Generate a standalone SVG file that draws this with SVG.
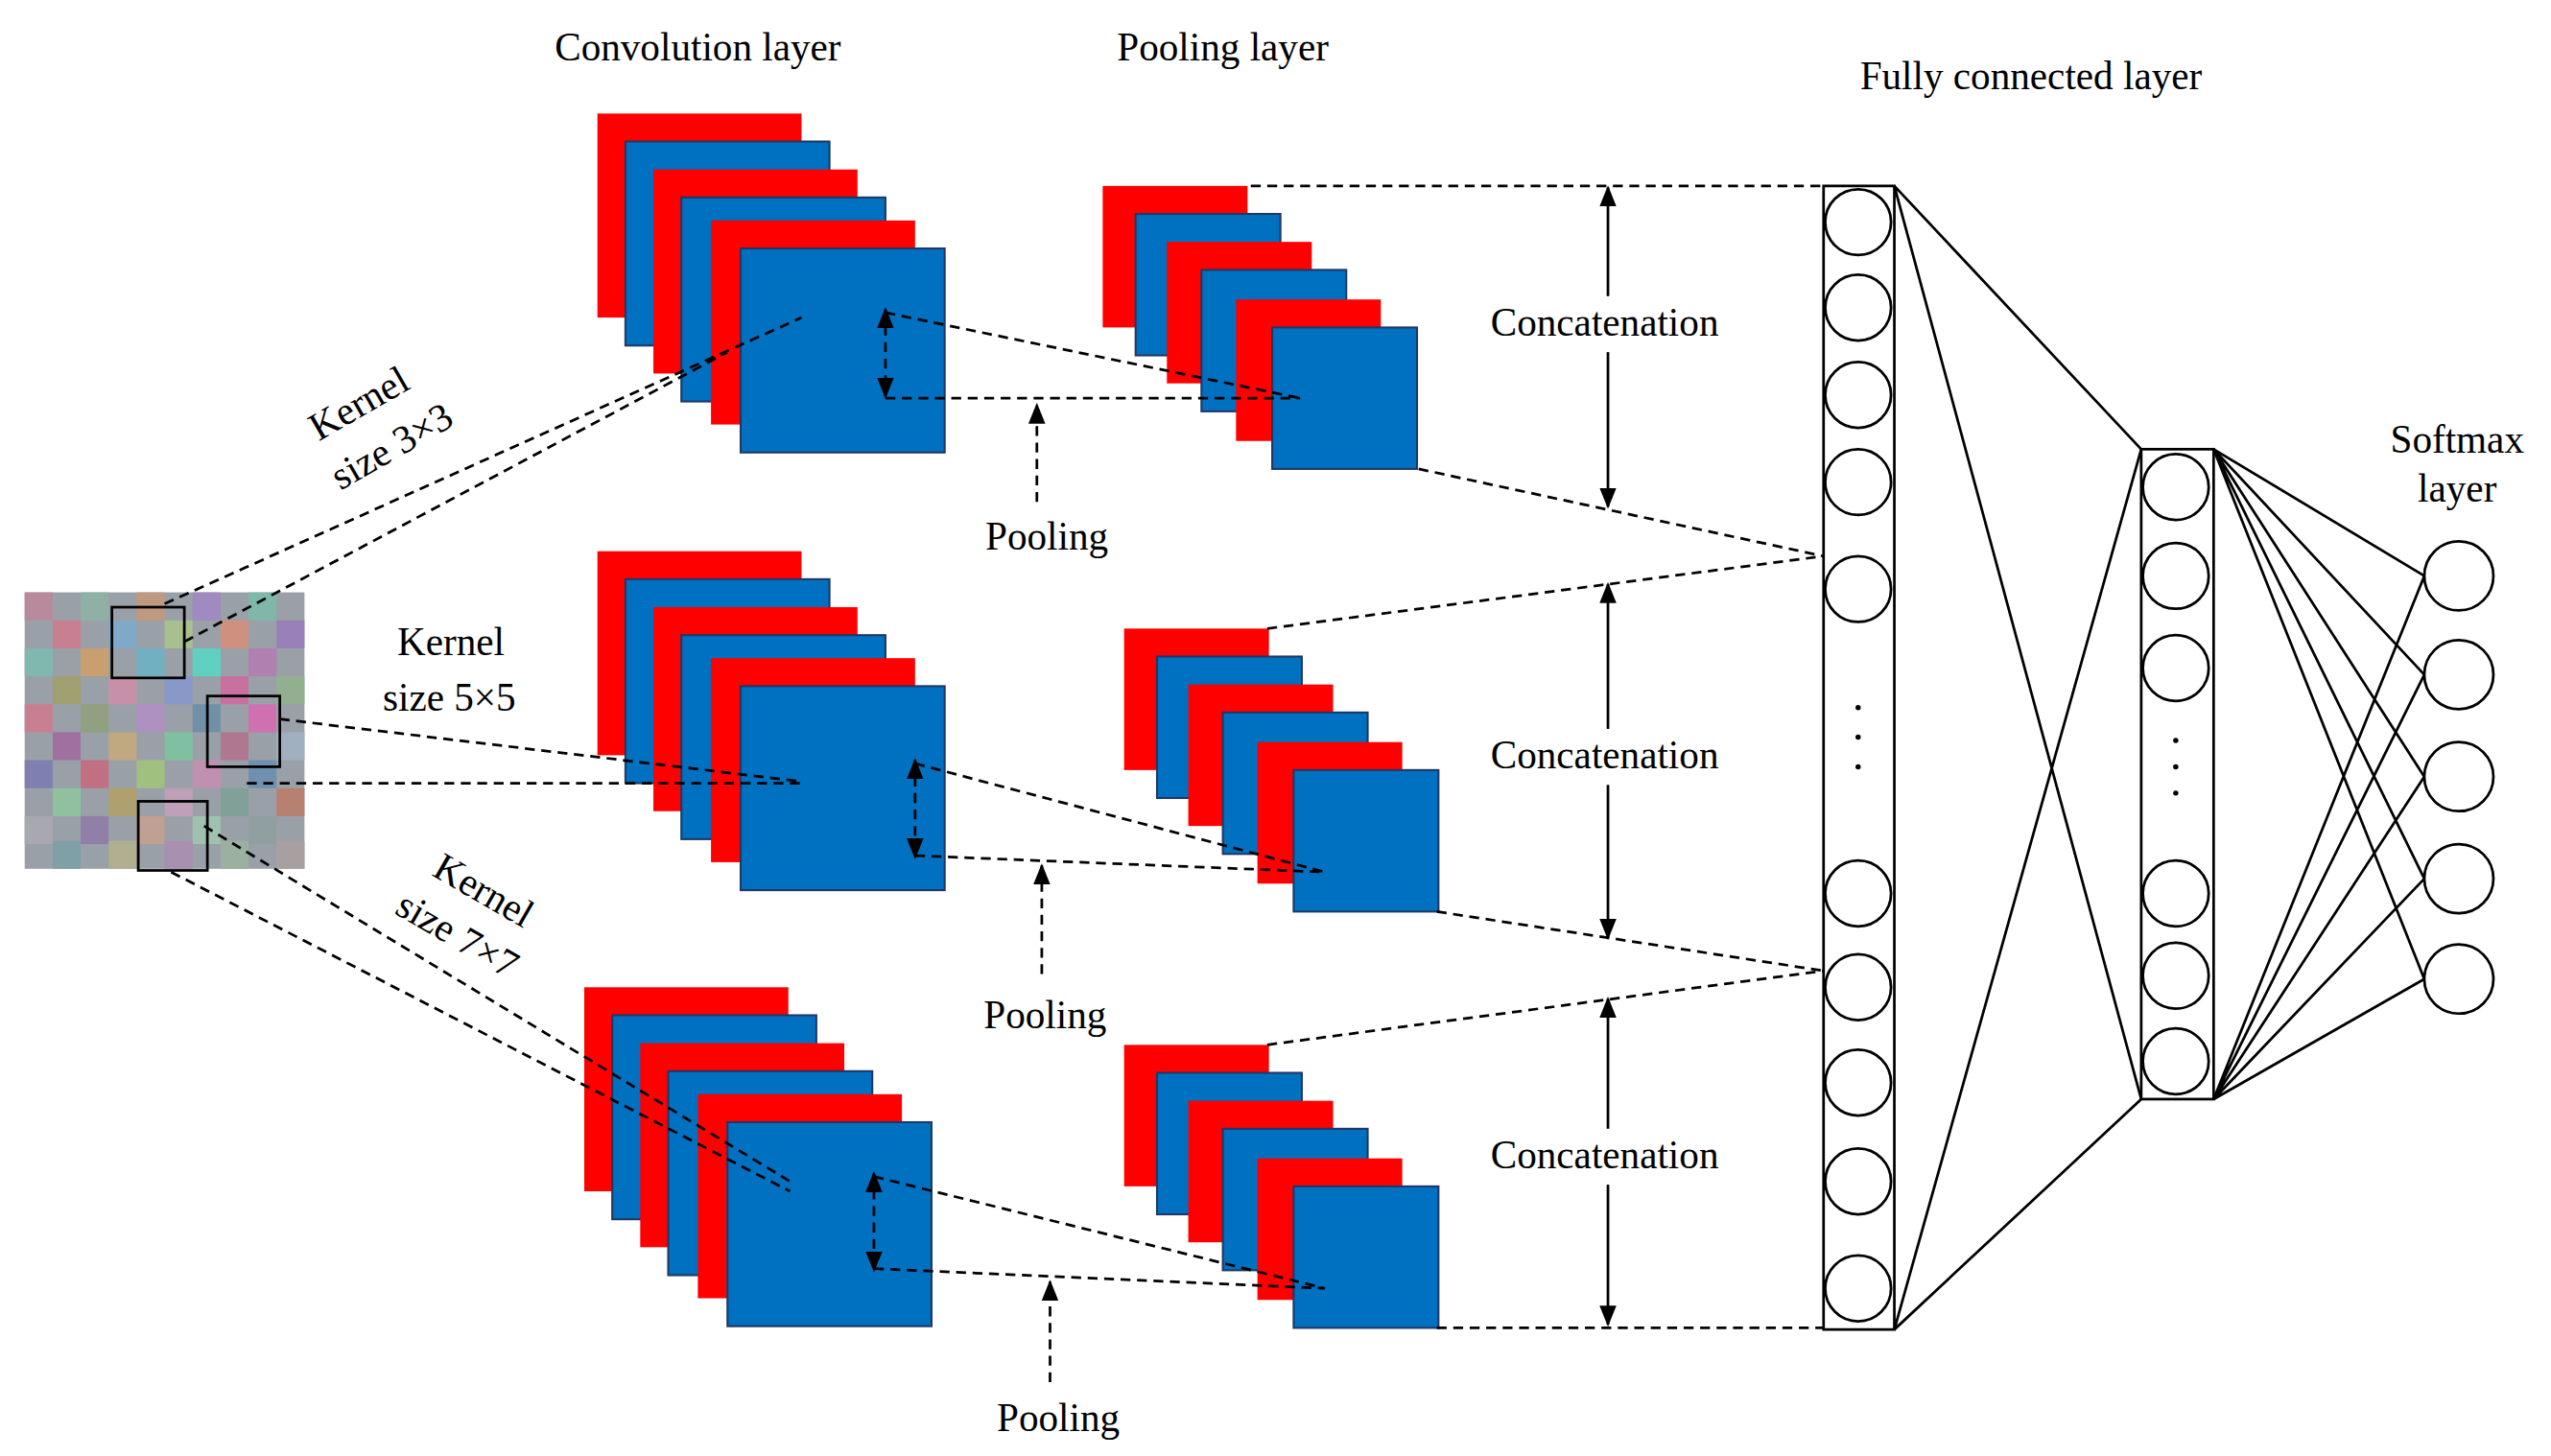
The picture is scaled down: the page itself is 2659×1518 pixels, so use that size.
<svg xmlns="http://www.w3.org/2000/svg" width="2659" height="1518" viewBox="0 0 2659 1518">
<style>
.r{fill:#FF0000}
.b{fill:#0070C0;stroke:#1F3864;stroke-width:1.2}
.d{fill:none;stroke:#000;stroke-width:1.6;stroke-dasharray:6 4}
.s{fill:none;stroke:#000;stroke-width:1.6}
.c{fill:#fff;stroke:#000;stroke-width:1.6}
text{font-family:"Liberation Serif",serif;font-size:24px;fill:#000}
.m{text-anchor:middle}
</style>
<defs>
<marker id="a" viewBox="0 0 10 10" refX="9" refY="5" markerWidth="8" markerHeight="8" orient="auto-start-reverse"><path d="M0,1 L10,5 L0,9 z" fill="#000"/></marker>
<g id="conv"><rect class="r" x="0" y="0" width="124" height="124"/><rect class="b" x="17" y="17" width="124" height="124"/><rect class="r" x="34" y="34" width="124" height="124"/><rect class="b" x="51" y="51" width="124" height="124"/><rect class="r" x="69" y="65" width="124" height="124"/><rect class="b" x="87" y="82" width="124" height="124"/></g>
<g id="pool"><rect class="r" x="0" y="0" width="88" height="86"/><rect class="b" x="20" y="17" width="88" height="86"/><rect class="r" x="39" y="34" width="88" height="86"/><rect class="b" x="60" y="51" width="88" height="86"/><rect class="r" x="81" y="69" width="88" height="86"/><rect class="b" x="103" y="86" width="88" height="86"/></g>
</defs>
<rect width="2659" height="1518" fill="#fff"/>
<g transform="scale(1.7155)">
<g id="titles">
<text class="m" x="424" y="37">Convolution layer</text>
<text class="m" x="743" y="37">Pooling layer</text>
<text class="m" x="1234" y="54">Fully connected layer</text>
<text class="m" x="1493" y="275">Softmax</text>
<text class="m" x="1493" y="305">layer</text>
</g>
<g id="input">
<g>
<rect x="15" y="360" width="170" height="168" fill="#9aa0a8"/>
<rect x="15" y="360" width="17" height="17" fill="#b88a9c"/><rect x="49" y="360" width="17" height="17" fill="#8fb0a4"/><rect x="83" y="360" width="17" height="17" fill="#c09a80"/><rect x="117" y="360" width="17" height="17" fill="#a08ac0"/><rect x="151" y="360" width="17" height="17" fill="#7fb8a8"/>
<rect x="32" y="377" width="17" height="17" fill="#c87f90"/><rect x="66" y="377" width="17" height="17" fill="#80a8c8"/><rect x="100" y="377" width="17" height="17" fill="#a8c090"/><rect x="134" y="377" width="17" height="17" fill="#d09080"/><rect x="168" y="377" width="17" height="17" fill="#9a80b8"/>
<rect x="15" y="394" width="17" height="17" fill="#80b8b0"/><rect x="49" y="394" width="17" height="17" fill="#c8a070"/><rect x="83" y="394" width="17" height="17" fill="#70b0c0"/><rect x="117" y="394" width="17" height="17" fill="#60d0c0"/><rect x="151" y="394" width="17" height="17" fill="#b080b0"/>
<rect x="32" y="411" width="17" height="17" fill="#a0a070"/><rect x="66" y="411" width="17" height="17" fill="#c890a8"/><rect x="100" y="411" width="17" height="17" fill="#8898c8"/><rect x="134" y="411" width="17" height="17" fill="#c870a0"/><rect x="168" y="411" width="17" height="17" fill="#90b090"/>
<rect x="15" y="428" width="17" height="17" fill="#c88090"/><rect x="49" y="428" width="17" height="17" fill="#90a080"/><rect x="83" y="428" width="17" height="17" fill="#b090c0"/><rect x="117" y="428" width="17" height="17" fill="#7090a8"/><rect x="151" y="428" width="17" height="17" fill="#d070b0"/>
<rect x="32" y="445" width="17" height="17" fill="#a070a0"/><rect x="66" y="445" width="17" height="17" fill="#c0a880"/><rect x="100" y="445" width="17" height="17" fill="#80c0a0"/><rect x="134" y="445" width="17" height="17" fill="#b07890"/><rect x="168" y="445" width="17" height="17" fill="#a0b0c0"/>
<rect x="15" y="462" width="17" height="17" fill="#8080b0"/><rect x="49" y="462" width="17" height="17" fill="#c07080"/><rect x="83" y="462" width="17" height="17" fill="#a0c080"/><rect x="117" y="462" width="17" height="17" fill="#c090b0"/><rect x="151" y="462" width="17" height="17" fill="#7090b0"/>
<rect x="32" y="479" width="17" height="17" fill="#90c0a0"/><rect x="66" y="479" width="17" height="17" fill="#b0a070"/><rect x="100" y="479" width="17" height="17" fill="#c0a0b8"/><rect x="134" y="479" width="17" height="17" fill="#80a098"/><rect x="168" y="479" width="17" height="17" fill="#b88070"/>
<rect x="15" y="496" width="17" height="17" fill="#a8a8b0"/><rect x="49" y="496" width="17" height="17" fill="#9080a8"/><rect x="83" y="496" width="17" height="17" fill="#c0a090"/><rect x="117" y="496" width="17" height="17" fill="#a0c0b0"/><rect x="151" y="496" width="17" height="17" fill="#90a0a0"/>
<rect x="32" y="511" width="17" height="17" fill="#80a0a8"/><rect x="66" y="511" width="17" height="17" fill="#b0b090"/><rect x="100" y="511" width="17" height="17" fill="#a890b0"/><rect x="134" y="511" width="17" height="17" fill="#9cb0a0"/><rect x="168" y="511" width="17" height="17" fill="#a8a0a0"/>
</g>
<rect x="68" y="369" width="44" height="43" class="s"/>
<rect x="126" y="423" width="44" height="43" class="s"/>
<rect x="84" y="487" width="42" height="42" class="s"/>
</g>
<g id="conv1"><use href="#conv" x="363" y="69"/></g>
<g id="conv2"><use href="#conv" x="363" y="335"/></g>
<g id="conv3"><use href="#conv" x="355" y="600"/></g>
<g id="pool1"><use href="#pool" x="670" y="113"/></g>
<g id="pool2"><use href="#pool" x="683" y="382"/></g>
<g id="pool3"><use href="#pool" x="683" y="635"/></g>
<g id="fc1">
<rect x="1108" y="113" width="43" height="695" class="s"/>
<circle class="c" cx="1129" cy="135" r="20"/><circle class="c" cx="1129" cy="187" r="20"/><circle class="c" cx="1129" cy="240" r="20"/><circle class="c" cx="1129" cy="293" r="20"/><circle class="c" cx="1129" cy="358" r="20"/>
<circle cx="1129" cy="430" r="1.6"/><circle cx="1129" cy="448" r="1.6"/><circle cx="1129" cy="466" r="1.6"/>
<circle class="c" cx="1129" cy="543" r="20"/><circle class="c" cx="1129" cy="600" r="20"/><circle class="c" cx="1129" cy="658" r="20"/><circle class="c" cx="1129" cy="718" r="20"/><circle class="c" cx="1129" cy="783" r="20"/>
</g>
<g id="fc2">
<rect x="1301" y="273" width="44" height="395" class="s"/>
<circle class="c" cx="1322" cy="296" r="20"/><circle class="c" cx="1322" cy="350" r="20"/><circle class="c" cx="1322" cy="406" r="20"/>
<circle cx="1322" cy="450" r="1.6"/><circle cx="1322" cy="466" r="1.6"/><circle cx="1322" cy="482" r="1.6"/>
<circle class="c" cx="1322" cy="543" r="20"/><circle class="c" cx="1322" cy="593" r="20"/><circle class="c" cx="1322" cy="645" r="20"/>
</g>
<g id="softmax">
<circle class="c" cx="1494" cy="350" r="21"/><circle class="c" cx="1494" cy="410" r="21"/><circle class="c" cx="1494" cy="472" r="21"/><circle class="c" cx="1494" cy="534" r="21"/><circle class="c" cx="1494" cy="595" r="21"/>
</g>
<g id="connectors">
<path class="d" d="M100,367 L487,193 M112,390 L442,214 M170,437 L487,475 M150,476 L487,476 M104,530 L480,724 M124,502 L480,718"/>
<path class="d" d="M538,242 L790,242 M538,190 L790,242 M556,464 L805,530 M556,520 L805,530 M531,715 L805,783 M531,771 L805,783"/>
<line class="d" x1="538" y1="188" x2="538" y2="241" marker-start="url(#a)" marker-end="url(#a)"/>
<line class="d" x1="556" y1="462" x2="556" y2="521" marker-start="url(#a)" marker-end="url(#a)"/>
<line class="d" x1="531" y1="713" x2="531" y2="772" marker-start="url(#a)" marker-end="url(#a)"/>
<line class="d" x1="630" y1="305" x2="630" y2="246" marker-end="url(#a)"/>
<line class="d" x1="633" y1="592" x2="633" y2="526" marker-end="url(#a)"/>
<line class="d" x1="638" y1="840" x2="638" y2="779" marker-end="url(#a)"/>
<path class="d" d="M760,113 L1108,113 M862,285 L1108,338 M770,382 L1108,338 M873,554 L1108,590 M770,635 L1108,590 M873,807 L1108,807"/>
<line class="s" x1="977" y1="114" x2="977" y2="308" marker-start="url(#a)" marker-end="url(#a)"/>
<line class="s" x1="977" y1="355" x2="977" y2="570" marker-start="url(#a)" marker-end="url(#a)"/>
<line class="s" x1="977" y1="607" x2="977" y2="805" marker-start="url(#a)" marker-end="url(#a)"/>
<path class="s" d="M1151,113 L1301,273 M1151,113 L1301,668 M1151,808 L1301,273 M1151,808 L1301,668"/>
<path class="s" d="M1345,273 L1473,350 M1345,273 L1473,410 M1345,273 L1473,472 M1345,273 L1473,534 M1345,273 L1473,595 M1345,668 L1473,350 M1345,668 L1473,410 M1345,668 L1473,472 M1345,668 L1473,534 M1345,668 L1473,595"/>
</g>
<g id="labels">
<rect x="895" y="180" width="160" height="34" fill="#fff"/>
<rect x="895" y="443" width="160" height="34" fill="#fff"/>
<rect x="895" y="686" width="160" height="34" fill="#fff"/>
<text class="m" x="975" y="204">Concatenation</text>
<text class="m" x="975" y="467">Concatenation</text>
<text class="m" x="975" y="710">Concatenation</text>
<text class="m" x="636" y="334">Pooling</text>
<text class="m" x="635" y="625">Pooling</text>
<text class="m" x="643" y="870">Pooling</text>
<text class="m" transform="translate(222,252) rotate(-30)">Kernel</text>
<text class="m" transform="translate(242,278) rotate(-30)">size 3×3</text>
<text class="m" x="274" y="398">Kernel</text>
<text class="m" x="273" y="432">size 5×5</text>
<text class="m" transform="translate(290,548) rotate(30)">Kernel</text>
<text class="m" transform="translate(274,575) rotate(30)">size 7×7</text>
</g>
</g>
</svg>
